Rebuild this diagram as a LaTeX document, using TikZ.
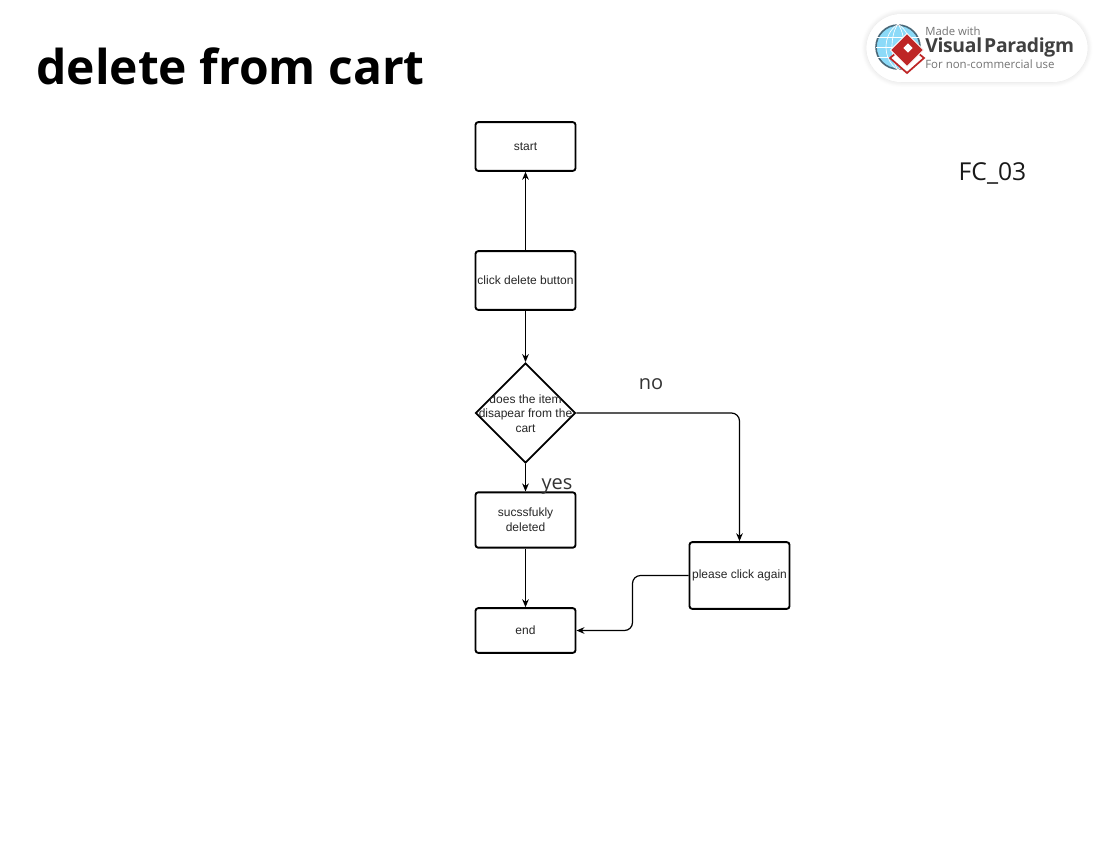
\documentclass[tikz,border=0pt]{standalone}
\usepackage{fontspec}
\setmainfont{Liberation Sans}
\newfontfamily\openfont{Open Sans}
\usetikzlibrary{shapes.geometric,shadows.blur,arrows.meta}
\tikzset{
  flowbox/.style={draw, line width=1.4pt, rounded corners=2pt, minimum width=75pt, align=center, inner sep=0pt, font=\fontsize{9}{11}\selectfont, text=black!85},
  decisionbox/.style={draw, line width=1.4pt, diamond, aspect=1, minimum width=75pt, minimum height=75pt, inner sep=0pt},
  flowline/.style={-{Stealth[length=6pt,width=5pt]}, line width=.9pt, rounded corners=6pt},
  answer/.style={font=\openfont\fontsize{15}{18}\selectfont, text=black!80},
  logotext/.style={font=\openfont\fontsize{#1}{#1}\selectfont, text=black!55, anchor=west, inner sep=0pt}
}
\begin{document}
\begin{tikzpicture}[x=.75pt,y=-.75pt]
    \useasboundingbox (0,0) rectangle (1100,850);
    \node[font=\openfont\bfseries\fontsize{36}{40}\selectfont, anchor=west, inner sep=0pt] (title) at (36,66) {delete from cart};
    \node[font=\openfont\fontsize{18.5}{22}\selectfont, text=black!90, inner sep=0pt] (code) at (992.5,173) {FC\_03};
    % flow
    \node[flowbox, minimum height=36.5pt] (start) at (525.5,146.5) {start};
    \node[flowbox, minimum height=44pt] (click) at (525.5,280.5) {click delete button};
    \node[decisionbox] (decide) at (525.5,413) {};
    \node[align=center, inner sep=0pt, font=\fontsize{9}{10.8}\selectfont, text=black!85] (decidetext) at (525.5,413.5) {does the item\\disapear from the\\cart};
    \node[flowbox, minimum height=41.5pt] (deleted) at (525.5,520) {sucssfukly\\deleted};
    \node[flowbox, minimum height=33.5pt] (end) at (525.5,630.5) {end};
    \node[flowbox, minimum height=50pt] (again) at (739.5,575.5) {please click again};
    \draw[flowline] (click) -- (start);
    \draw[flowline] (click) -- (decide);
    \draw[flowline] (decide) -- (deleted);
    \draw[flowline] (deleted) -- (end);
    \draw[flowline] (decide.east) -| (again.north);
    \draw[flowline] (again.west) -- (632.5,575.5) -- (632.5,630.5) -- (end.east);
    \node[answer] (no) at (651,384) {no};
    \node[answer] (yes) at (557,486) {yes};
    % logo
    \node[fill=white, rounded corners=26pt, minimum width=166pt, minimum height=51pt, blur shadow={shadow blur steps=10, shadow blur radius=4pt, shadow xshift=0pt, shadow yshift=0pt, shadow opacity=14}] (badge) at (977,48) {};
    \node[circle, draw=black!60!cyan, line width=1.2pt, fill=cyan!45!white, minimum size=33pt, inner sep=0pt] (globe) at (898,47) {};
    \foreach \w in {8,16} \draw[white, line width=.5pt] (globe.north) .. controls (898-\w,34) and (898-\w,60) .. (globe.south) .. controls (898+\w,60) and (898+\w,34) .. (globe.north);
    \foreach \h in {-10,0,10} \draw[white, line width=.5pt] (876,47+\h) -- (920,47+\h);
    \draw[red!70!black!85, line width=1.3pt, fill=white] (907,73) -- (890,58) -- (907,44) -- (924,58) -- cycle;
    \node[diamond, aspect=1, fill=red!70!black!85, draw=white, line width=.6pt, minimum size=25pt, inner sep=0pt] (mark) at (907,50) {};
    \node[rectangle, fill=white, rotate=45, minimum size=5pt, inner sep=0pt] (markhole) at (908,48) {};
    \node[logotext=8.5] (made) at (925,31) {Made with};
    \node[logotext=14.5, font=\openfont\bfseries\fontsize{14.5}{15}\selectfont\addfontfeature{LetterSpace=-1.5}, text=black!75] (brand) at (925,47) {Visual\hspace{1.5pt}Paradigm};
    \node[logotext=8.6] (use) at (925,64) {For non-commercial use};
\end{tikzpicture}
\end{document}
